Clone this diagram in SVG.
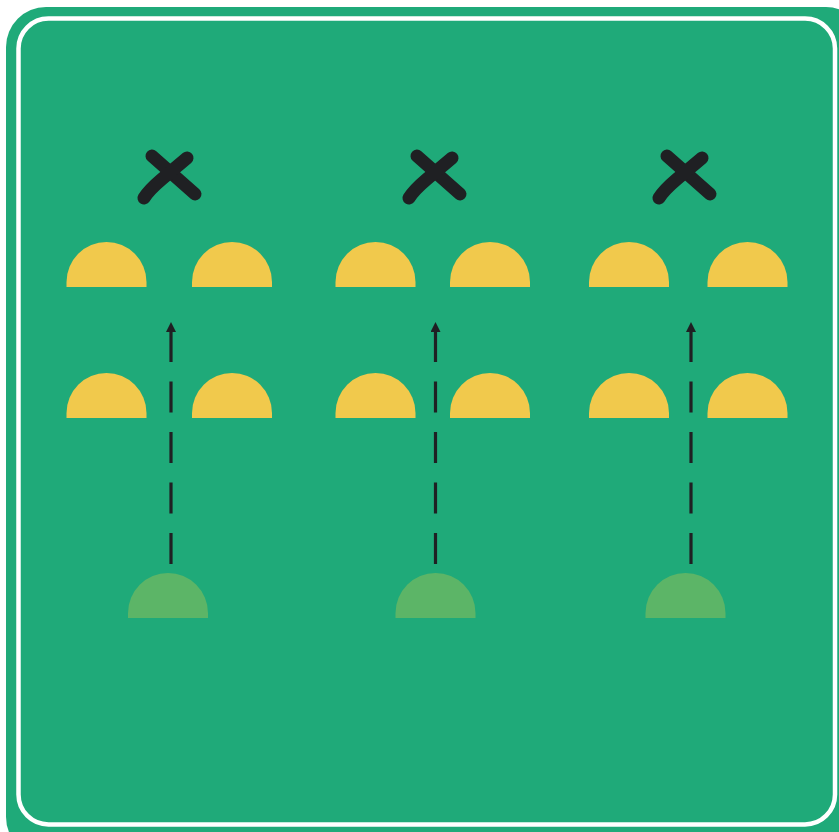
<svg xmlns="http://www.w3.org/2000/svg" width="839" height="832" viewBox="0 0 839 832">
  <defs>
    <style>
      .yel { fill: #F1C94C; }
      .grn { fill: #5CB567; }
      .xm { fill: none; stroke: #1F2023; stroke-width: 13; stroke-linecap: round; stroke-linejoin: round; }
      .conn { fill: none; stroke: #1F2023; stroke-width: 3.2; stroke-dasharray: 31 19.5; }
    </style>
    <marker id="arrow" viewBox="0 0 10 10" refX="1" refY="5" markerUnits="userSpaceOnUse" markerWidth="10" markerHeight="10" orient="auto">
      <path d="M0,0 L10,5 L0,10 Z" fill="#1F2023"/>
    </marker>
    <path id="semi" d="M-40,0 V-5 A40,40 0 0 1 40,-5 V0 Z"/>
    <g id="xmark">
      <path class="xm" d="M-16,-23 L27,15"/>
      <path class="xm" d="M19,-21 L-6,0 Q-19,11 -24,19"/>
    </g>
  </defs>

  <g id="frame">
    <rect x="6" y="7" width="860" height="850" rx="40" fill="#1FAA79"/>
    <rect x="18.5" y="18.5" width="816.5" height="806" rx="30" fill="none" stroke="#FFFFFF" stroke-width="4.5"/>
  </g>

  <g id="connectors">
    <path class="conn" d="M171,564 L171,331" marker-end="url(#arrow)"/>
    <path class="conn" d="M435.5,564 L435.5,331" marker-end="url(#arrow)"/>
    <path class="conn" d="M691,564 L691,331" marker-end="url(#arrow)"/>
  </g>

  <g id="x1"><use href="#xmark" x="168" y="179"/></g>
  <g id="x2"><use href="#xmark" x="433" y="179"/></g>
  <g id="x3"><use href="#xmark" x="683" y="179"/></g>

  <g id="y1a"><use href="#semi" class="yel" x="106.5" y="287"/></g>
  <g id="y1b"><use href="#semi" class="yel" x="232" y="287"/></g>
  <g id="y2a"><use href="#semi" class="yel" x="375.5" y="287"/></g>
  <g id="y2b"><use href="#semi" class="yel" x="490" y="287"/></g>
  <g id="y3a"><use href="#semi" class="yel" x="629" y="287"/></g>
  <g id="y3b"><use href="#semi" class="yel" x="747.5" y="287"/></g>

  <g id="y1c"><use href="#semi" class="yel" x="106.5" y="418"/></g>
  <g id="y1d"><use href="#semi" class="yel" x="232" y="418"/></g>
  <g id="y2c"><use href="#semi" class="yel" x="375.5" y="418"/></g>
  <g id="y2d"><use href="#semi" class="yel" x="490" y="418"/></g>
  <g id="y3c"><use href="#semi" class="yel" x="629" y="418"/></g>
  <g id="y3d"><use href="#semi" class="yel" x="747.5" y="418"/></g>

  <g id="g1"><use href="#semi" class="grn" x="168" y="618"/></g>
  <g id="g2"><use href="#semi" class="grn" x="435.5" y="618"/></g>
  <g id="g3"><use href="#semi" class="grn" x="685.5" y="618"/></g>
</svg>
